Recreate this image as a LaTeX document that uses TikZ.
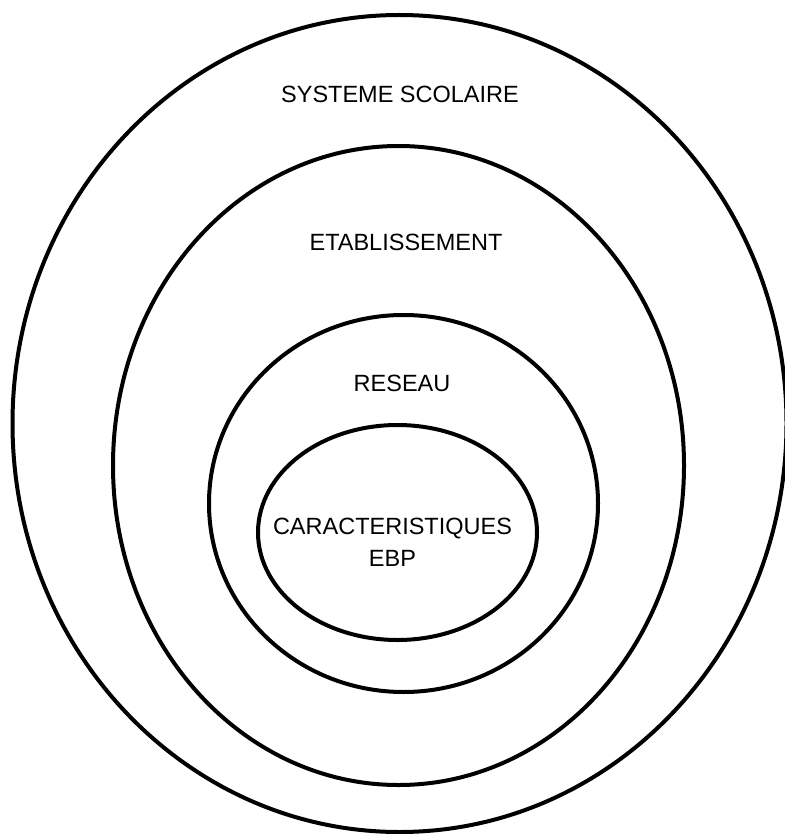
\documentclass[tikz,border=0pt]{standalone}
\usepackage{fontspec}
\setmainfont{Liberation Sans}
\begin{document}
\begin{tikzpicture}[x=1pt,y=-1pt,
  ring/.style={draw=black,line width=4pt},
  lbl/.style={anchor=base,inner sep=0pt,font=\fontsize{23.5}{32}\selectfont}]
\useasboundingbox (0,0) rectangle (784,834);
\coordinate (c1) at (399.5,423.5);
\coordinate (c2) at (398.5,465.5);
\coordinate (c3) at (403.5,503.5);
\coordinate (c4) at (397.5,532.5);
\draw[ring] (c1) ellipse [x radius=387, y radius=408.5];
\draw[ring] (c2) ellipse [x radius=285.5, y radius=319.5];
\draw[ring] (c3) ellipse [x radius=194.5, y radius=188.5];
\draw[ring] (c4) ellipse [x radius=139.5, y radius=107.5];
\node[lbl] (t1) at (400,103) {SYSTEME SCOLAIRE};
\node[lbl] (t2) at (406,251) {ETABLISSEMENT};
\node[lbl] (t3) at (402,391) {RESEAU};
\node[lbl] (t4) at (392.5,534) {CARACTERISTIQUES};
\node[lbl] (t5) at (392.5,566) {EBP};
\end{tikzpicture}
\end{document}
